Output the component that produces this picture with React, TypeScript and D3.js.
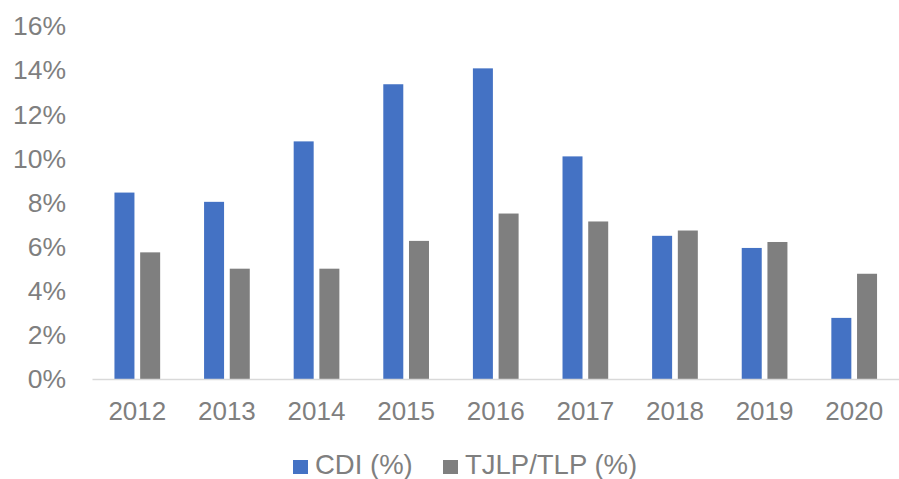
import { useEffect, useRef } from "react";
import * as d3 from "d3";

const years = ["2012", "2013", "2014", "2015", "2016", "2017", "2018", "2019", "2020"];
const cdi = [8.45, 8.03, 10.77, 13.36, 14.08, 10.09, 6.49, 5.94, 2.77];
const tjlp = [5.74, 5.0, 5.0, 6.26, 7.5, 7.14, 6.73, 6.21, 4.77];
const seriesNames = ["CDI (%)", "TJLP/TLP (%)"];
const seriesColors = ["#4472c4", "#7f7f7f"];
const yTicks = [0, 2, 4, 6, 8, 10, 12, 14, 16];

const App = () => {
    const ref = useRef<SVGSVGElement | null>(null);

    useEffect(() => {
        const width = 899, height = 479;
        const svg = d3.select(ref.current);
        svg.selectAll("*").remove();
        svg.attr("width", width).attr("height", height);

        const font = "'Liberation Sans', Arial, sans-serif";
        const textColor = "#7f7f7f";

        const x = d3.scaleBand<string>()
            .domain(years)
            .range([92.5, 899])
            .paddingInner(0.49)
            .paddingOuter(0.245);

        const x1 = d3.scaleBand<string>()
            .domain(seriesNames)
            .range([0, x.bandwidth()])
            .paddingInner(0.222);

        const y = d3.scaleLinear().domain([0, 16]).range([379, 26]);

        // y labels
        svg.append("g")
            .selectAll("text")
            .data(yTicks)
            .join("text")
            .attr("x", 66)
            .attr("y", d => y(d))
            .attr("dy", "0.35em")
            .attr("text-anchor", "end")
            .attr("font-family", font)
            .attr("font-size", 26.5)
            .attr("fill", textColor)
            .text(d => d + "%");

        // bars
        const groups = svg.append("g")
            .selectAll("g")
            .data(years)
            .join("g")
            .attr("transform", d => `translate(${x(d)},0)`);

        groups.selectAll("rect")
            .data((d, i) => [
                { key: seriesNames[0], v: cdi[i] },
                { key: seriesNames[1], v: tjlp[i] },
            ])
            .join("rect")
            .attr("x", d => x1(d.key)!)
            .attr("width", x1.bandwidth())
            .attr("y", d => y(d.v))
            .attr("height", d => y(0) - y(d.v))
            .attr("fill", (d, i) => seriesColors[i]);

        // baseline
        svg.append("line")
            .attr("x1", 92.5)
            .attr("x2", 899)
            .attr("y1", y(0) + 0.5)
            .attr("y2", y(0) + 0.5)
            .attr("stroke", "#d9d9d9")
            .attr("stroke-width", 1.5);

        // x labels
        svg.append("g")
            .selectAll("text")
            .data(years)
            .join("text")
            .attr("x", d => x(d)! + x.bandwidth() / 2)
            .attr("y", 411)
            .attr("dy", "0.35em")
            .attr("text-anchor", "middle")
            .attr("font-family", font)
            .attr("font-size", 26)
            .attr("fill", textColor)
            .text(d => d);

        // legend
        const legendX = [293, 443];
        const legend = svg.append("g")
            .selectAll("g")
            .data(seriesNames)
            .join("g")
            .attr("transform", (d, i) => `translate(${legendX[i]},0)`);

        legend.append("rect")
            .attr("x", 0)
            .attr("y", 460)
            .attr("width", 15)
            .attr("height", 14)
            .attr("fill", (d, i) => seriesColors[i]);

        legend.append("text")
            .attr("x", 22)
            .attr("y", 464.5)
            .attr("dy", "0.35em")
            .attr("font-family", font)
            .attr("font-size", 27.5)
            .attr("fill", textColor)
            .text(d => d);
    }, []);

    return (
        <svg ref={ref} style={{ position: "absolute", left: 0, top: 0, display: "block" }}></svg>
    );
};

export default App;
